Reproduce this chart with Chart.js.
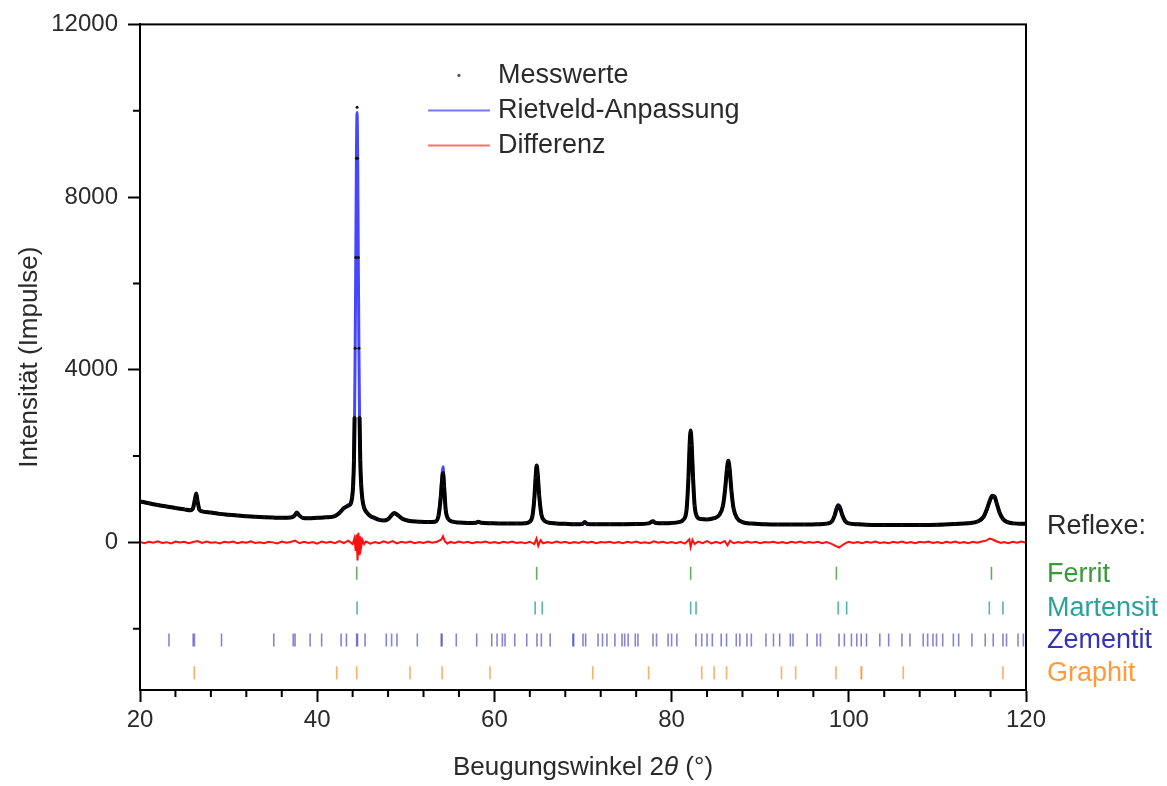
<!DOCTYPE html>
<html>
<head>
<meta charset="utf-8">
<script src="https://cdn.jsdelivr.net/npm/chart.js@4.4.1/dist/chart.umd.min.js"></script>
<style>
  body { margin: 0; background: #fff; }
</style>
</head>
<body>
<canvas id="xrd" width="1167" height="786"></canvas>
<script>
// measured pattern and Rietveld fit, same 2theta grid
const angle = [
  20, 21, 22, 23, 24, 25, 25.7, 26.0, 26.2, 26.35, 26.5, 26.7, 27, 28, 29, 30, 31, 32, 33, 34, 35, 36, 37,
  37.4, 37.7, 38.0, 38.4, 39, 40, 41, 42, 42.5, 43.0, 43.5, 43.8, 43.95, 44.05, 44.15, 44.22, 44.29, 44.36,
  44.43, 44.5, 44.57, 44.64, 44.71, 44.78, 44.86, 44.96, 45.1, 45.3, 45.6, 46, 46.5, 47, 47.5, 48, 48.4,
  48.7, 49.1, 49.6, 50.3, 51.5, 52.5, 53.3, 53.7, 53.95, 54.1, 54.2, 54.32, 54.5, 54.8, 55.3, 56, 57, 57.9,
  58.2, 58.5, 59.5, 60.5, 61.5, 62.5, 63.5, 64.0, 64.3, 64.5, 64.65, 64.77, 64.9, 65.05, 65.3, 65.6, 66, 67,
  68, 69, 69.9, 70.2, 70.5, 71.5, 73, 74.5, 76, 77.4, 77.9, 78.2, 79, 80, 80.8, 81.4, 81.7, 81.9, 82.03,
  82.15, 82.27, 82.42, 82.6, 82.85, 83.3, 84, 84.8, 85.4, 85.8, 86.05, 86.25, 86.4, 86.55, 86.75, 87.0, 87.4,
  88, 89, 90.5, 92, 93.5, 95, 96.5, 97.5, 98.1, 98.4, 98.62, 98.8, 99.0, 99.25, 99.6, 100, 101, 102, 104,
  106, 108, 110, 112, 113.5, 114.6, 115.2, 115.6, 115.9, 116.2, 116.45, 116.7, 117.0, 117.4, 117.9, 118.6,
  119.3, 120
];
const measured = [
  950, 905, 865, 830, 795, 765, 745, 800, 1000, 1130, 950, 760, 720, 690, 660, 640, 620, 605, 592, 582, 575, 570, 575,
  610, 690, 620, 565, 560, 570, 580, 610, 680, 790, 850, 900, 1050, 1300, 1900, 2900, 4500, 6600,
  8900, 10080, 8900, 6600, 4500, 2900, 1900, 1350, 1000, 800, 690, 610, 560, 520, 505, 540, 630,
  680, 630, 550, 500, 480, 470, 480, 620, 1050, 1450, 1600, 1300, 760, 540, 480, 460, 450, 455,
  480, 455, 445, 440, 440, 438, 445, 480, 620, 1000, 1500, 1780, 1550, 1100, 650, 510, 465, 440,
  430, 420, 425, 470, 425, 420, 420, 422, 425, 440, 490, 450, 445, 450, 470, 540, 780, 1500, 2250,
  2590, 2250, 1500, 850, 600, 540, 530, 560, 640, 850, 1250, 1700, 1890, 1700, 1200, 780, 560,
  470, 435, 420, 415, 415, 415, 420, 435, 490, 620, 780, 850, 800, 640, 490, 440, 420, 410, 400,
  400, 402, 410, 428, 445, 490, 590, 780, 960, 1080, 1060, 900, 700, 540, 470, 440,
  430, 435
];
const fitted = [
  950, 905, 865, 830, 795, 765, 745, 790, 980, 1100, 930, 760, 720, 690, 660, 640, 620, 605, 592, 582, 575, 570, 575,
  620, 660, 620, 565, 560, 570, 580, 610, 690, 800, 870, 930, 1080, 1350, 1980, 3000, 4600, 6750,
  9000, 9960, 8800, 6500, 4450, 2900, 1900, 1350, 1000, 810, 700, 620, 580, 530, 505, 540, 620,
  670, 630, 550, 500, 480, 470, 480, 640, 1150, 1600, 1750, 1400, 780, 540, 480, 460, 450, 455,
  475, 455, 445, 440, 440, 438, 445, 480, 620, 980, 1480, 1760, 1580, 1100, 650, 510, 465, 440,
  430, 420, 425, 460, 425, 420, 420, 422, 425, 440, 480, 450, 445, 450, 470, 540, 780, 1480, 2200,
  2560, 2280, 1550, 880, 600, 540, 530, 560, 640, 860, 1270, 1720, 1880, 1690, 1200, 780, 560,
  470, 435, 420, 415, 415, 415, 420, 435, 495, 640, 810, 880, 840, 670, 500, 440, 420, 410, 400,
  400, 402, 410, 428, 445, 490, 580, 760, 930, 1050, 1050, 900, 710, 550, 470, 440,
  430, 435
];

// difference curve (measured - fit)
const diffAngle = [
  20, 20.5, 21, 21.5, 22, 22.5, 23, 23.5, 24, 24.5, 25, 25.5, 26, 26.5, 27, 27.5, 28, 28.5, 29, 29.5,
  30, 30.5, 31, 31.5, 32, 32.5, 33, 33.5, 34, 34.5, 35, 35.5, 36, 36.5, 37, 37.5, 38, 38.5, 39, 39.5,
  40, 40.5, 41, 41.5, 42, 42.5, 43, 43.5, 44, 44.2, 44.35, 44.45, 44.55, 44.65, 44.75, 44.85, 44.95, 45.1,
  45.3, 45.5, 46, 46.5, 47, 47.5, 48, 48.5, 49, 49.5, 50, 50.5, 51, 51.5, 52, 52.5, 53, 53.5, 54, 54.2,
  54.4, 54.7, 55, 55.5, 56, 56.5, 57, 57.5, 58, 58.5, 59, 59.5, 60, 60.5, 61, 61.5, 62, 62.5, 63, 63.5,
  64, 64.5, 64.75, 64.95, 65.2, 65.5, 66, 66.5, 67, 67.5, 68, 68.5, 69, 69.5, 70, 70.5, 71, 71.5, 72, 72.5,
  73, 73.5, 74, 74.5, 75, 75.5, 76, 76.5, 77, 77.5, 78, 78.5, 79, 79.5, 80, 80.5, 81, 81.5, 82, 82.15,
  82.35, 82.6, 83, 83.5, 84, 84.5, 85, 85.5, 86, 86.3, 86.6, 87, 87.5, 88, 88.5, 89, 89.5, 90, 90.5, 91,
  91.5, 92, 92.5, 93, 93.5, 94, 94.5, 95, 95.5, 96, 96.5, 97, 97.5, 98, 98.5, 98.9, 99.3, 99.7, 100, 100.5,
  101, 101.5, 102, 102.5, 103, 103.5, 104, 104.5, 105, 105.5, 106, 106.5, 107, 107.5, 108, 108.5, 109, 109.5,
  110, 110.5, 111, 111.5, 112, 112.5, 113, 113.5, 114, 114.5, 115, 115.5, 115.9, 116.3, 116.7, 117.2, 117.5,
  118, 118.5, 119, 119.5, 120
];
const diffValue = [
  10, -20, 15, -10, 25, -15, 5, -25, 20, -5, 15, -20, 10, 30, -15, 20, -10, 5, -25, 15,
  -5, 20, -20, 10, -10, 25, -15, 5, -20, 15, 0, -25, 20, -10, 10, 40, -20, 15, -15, 10,
  -30, 20, -10, 15, -20, 30, -15, 40, -40, 90, -200, 180, -420, 220, -300, 140, -120, 60,
  -40, 20, -30, 10, -20, 25, -15, 30, -25, 15, -10, 20, -20, 10, -15, 20, -10, 15, 60, 140,
  30, -30, 10, -15, 20, -10, 15, -20, 10, -5, 20, -15, 10, -20, 15, -10, 20, -15, 5, -20,
  15, -40, 90, -80, 50, -20, 10, -15, 20, -10, 15, -20, 10, -15, 20, -10, 15, -20, 10, -5,
  15, -15, 10, -20, 15, -10, 20, -15, 5, -20, 25, -10, 15, -15, 10, -20, 15, -30, 70, -110,
  60, -40, 20, -20, 30, -25, 15, -20, 30, -70, 40, -20, 10, -15, 20, -10, 15, -20, 10, -5,
  15, -15, 10, -20, 15, -10, 20, -15, 10, -10, 15, -20, 10, -30, -80, -120, -60, -10, 15, -15,
  10, -20, 15, -10, 20, -15, 5, -20, 15, -10, 20, -15, 10, -20, 15, -5, 20, -15,
  10, -20, 15, -10, 20, -15, 10, -20, 15, -10, 20, 40, 90, 60, 20, -15, 10,
  -20, 15, -10, 20, -10
];

// reflection positions per phase
const ferritPeaks = [44.46, 64.77, 82.15, 98.6, 116.1];
const martensitPeaks = [44.5, 64.6, 65.4, 82.15, 82.76, 98.8, 99.76, 115.86, 117.4];
const zementitPeaks = [
  23.27, 26.0, 26.15, 29.2, 35.1, 37.3, 37.5, 39.2, 40.5, 42.7, 43.3, 44.45, 44.55, 45.4, 47.8, 48.4, 49.0,
  51.3, 54.0, 54.1, 55.7, 58.0, 59.7, 60.3, 60.9, 61.2, 62.3, 63.65, 64.8, 65.3, 66.3, 68.85, 68.95,
  70.0, 70.3, 71.7, 72.2, 72.7, 73.6, 74.4, 74.7, 75.1, 75.9, 76.2, 77.9, 78.3, 79.6, 80.0, 80.6,
  82.75, 83.4, 84.0, 84.6, 85.6, 86.2, 87.3, 87.7, 88.5, 89.0, 90.65, 91.5, 92.2, 93.4, 93.7, 95.3,
  96.4, 96.8, 98.9, 99.5, 100.3, 100.9, 101.4, 102.0, 103.5, 104.5, 106.0, 106.9, 108.4, 108.9, 109.5,
  109.9, 110.6, 111.8, 112.4, 113.9, 115.4, 116.3, 117.4, 117.8, 119.1, 119.7
];
const graphitPeaks = [
  26.13, 42.2, 44.46, 50.47, 54.1, 59.5, 71.1, 77.4, 83.4, 84.8, 86.2, 92.4, 94.0, 98.55, 101.4, 101.45,
  106.15, 117.4
];

const phaseNames = ['Ferrit', 'Martensit', 'Zementit', 'Graphit'];
const phaseRows = [-715, -1520, -2260, -3020];
const phaseColors = ['#3a9a3a', '#2aa29c', '#3434b4', '#ff9a3c'];
const tickColors = ['rgba(58,154,58,0.8)', 'rgba(42,162,156,0.8)', 'rgba(52,52,180,0.6)', 'rgba(255,154,60,0.8)'];

const keyLabels = ['Messwerte', 'Rietveld-Anpassung', 'Differenz'];
const xTicks = [20, 40, 60, 80, 100, 120];
const yTicks = [0, 4000, 8000, 12000];

const FONT = '"Liberation Sans", Arial, sans-serif';
const TEXT = '#2a2a2a';

const toPoints = (xs, ys) => xs.map((x, i) => ({ x: x, y: ys[i] }));
const phaseLists = [ferritPeaks, martensitPeaks, zementitPeaks, graphitPeaks];

const reflexSets = phaseLists.map((list, k) => ({
  label: phaseNames[k],
  data: list.map(v => ({ x: v, y: phaseRows[k] })),
  showLine: false,
  pointStyle: 'line',
  rotation: 90,
  pointRadius: 6.5,
  borderColor: tickColors[k],
  backgroundColor: tickColors[k],
  borderWidth: 1.6
}));

// frame, minor ticks, key, phase labels and x title
const decor = {
  id: 'decor',
  afterDraw(chart) {
    const { ctx, chartArea: a, scales: { x, y } } = chart;
    ctx.save();
    ctx.strokeStyle = '#000';
    ctx.lineWidth = 2;
    ctx.strokeRect(a.left, a.top, a.right - a.left, a.bottom - a.top);

    ctx.lineWidth = 2;
    ctx.beginPath();
    for (let v = 24; v < 120; v += 4) {
      if (v % 20 === 0) continue;
      const px = x.getPixelForValue(v);
      ctx.moveTo(px, a.bottom);
      ctx.lineTo(px, a.bottom + 7);
    }
    [-2000, 2000, 6000, 10000].forEach(v => {
      const py = y.getPixelForValue(v);
      ctx.moveTo(a.left, py);
      ctx.lineTo(a.left - 7, py);
    });
    ctx.stroke();

    // key
    const w = a.right - a.left;
    const m0 = a.left + 0.325 * w, m1 = a.left + 0.395 * w, tx = a.left + 0.404 * w;
    ctx.font = '27px ' + FONT;
    ctx.textBaseline = 'middle';
    ctx.textAlign = 'left';
    keyLabels.forEach((label, i) => {
      const ky = a.top + 51 + i * 35;
      if (i === 0) {
        ctx.fillStyle = '#555';
        ctx.beginPath();
        ctx.arc((m0 + m1) / 2, ky, 1.6, 0, Math.PI * 2);
        ctx.fill();
      } else {
        ctx.strokeStyle = i === 1 ? '#7878ff' : '#ff7070';
        ctx.lineWidth = 2;
        ctx.beginPath();
        ctx.moveTo(m0, ky);
        ctx.lineTo(m1, ky);
        ctx.stroke();
      }
      ctx.fillStyle = TEXT;
      ctx.fillText(label, tx, ky);
    });

    // phase labels right of the plot
    const lx = a.right + 21;
    ctx.fillStyle = TEXT;
    ctx.fillText('Reflexe:', lx, y.getPixelForValue(phaseRows[0]) - 47);
    phaseNames.forEach((name, k) => {
      ctx.fillStyle = phaseColors[k];
      ctx.fillText(name, lx, y.getPixelForValue(phaseRows[k]) + 1);
    });

    // x title with italic theta
    const parts = [['Beugungswinkel 2', ''], ['\u03B8', 'italic '], [' (\u00B0)', '']];
    let total = 0;
    parts.forEach(p => { ctx.font = p[1] + '26px ' + FONT; total += ctx.measureText(p[0]).width; });
    let cx = (a.left + a.right) / 2 - total / 2;
    ctx.fillStyle = TEXT;
    parts.forEach(p => {
      ctx.font = p[1] + '26px ' + FONT;
      ctx.fillText(p[0], cx, 768);
      cx += ctx.measureText(p[0]).width;
    });
    ctx.restore();
  }
};

new Chart(document.getElementById('xrd'), {
  type: 'scatter',
  data: {
    datasets: [
      {
        label: keyLabels[0],
        data: toPoints(angle, measured),
        showLine: true,
        cubicInterpolationMode: 'monotone',
        borderColor: '#000',
        borderWidth: 4,
        pointRadius: 1.5,
        pointBorderWidth: 0,
        pointBackgroundColor: '#111',
        segment: {
          // steep part of the main reflex shows only the single dots
          borderColor: c => Math.max(c.p0.parsed.y, c.p1.parsed.y) > 3000 ? 'rgba(0,0,0,0)' : '#000'
        }
      },
      {
        label: keyLabels[1],
        data: toPoints(angle, fitted),
        showLine: true,
        cubicInterpolationMode: 'monotone',
        borderColor: '#4646ff',
        borderWidth: 3,
        pointRadius: 0
      },
      {
        label: keyLabels[2],
        data: toPoints(diffAngle, diffValue),
        showLine: true,
        borderColor: '#ff1010',
        borderWidth: 2,
        pointRadius: 0
      },
      ...reflexSets
    ]
  },
  options: {
    responsive: false,
    animation: false,
    layout: { padding: { top: 22, right: 141, left: 0, bottom: 0 } },
    plugins: { legend: { display: false }, tooltip: { enabled: false } },
    scales: {
      x: {
        type: 'linear',
        min: 20,
        max: 120,
        afterBuildTicks: s => { s.ticks = xTicks.map(v => ({ value: v })); },
        afterFit: s => { s.height = 96; },
        ticks: { font: { family: FONT, size: 24 }, color: TEXT, padding: 4, maxRotation: 0, callback: v => String(v) },
        grid: { drawOnChartArea: false, tickLength: 12, tickWidth: 2, tickColor: '#000' },
        border: { color: '#000', width: 2 }
      },
      y: {
        min: -3420,
        max: 12000,
        afterBuildTicks: s => { s.ticks = yTicks.map(v => ({ value: v })); },
        afterFit: s => { s.width = 140; },
        ticks: { font: { family: FONT, size: 24 }, color: TEXT, padding: 10, callback: v => String(v) },
        grid: { drawOnChartArea: false, tickLength: 12, tickWidth: 2, tickColor: '#000' },
        border: { color: '#000', width: 2 },
        title: {
          display: true,
          text: 'Intensität (Impulse)',
          font: { family: FONT, size: 26 },
          color: TEXT,
          padding: { top: 14, bottom: 0 }
        }
      }
    }
  },
  plugins: [decor]
});
</script>
</body>
</html>
